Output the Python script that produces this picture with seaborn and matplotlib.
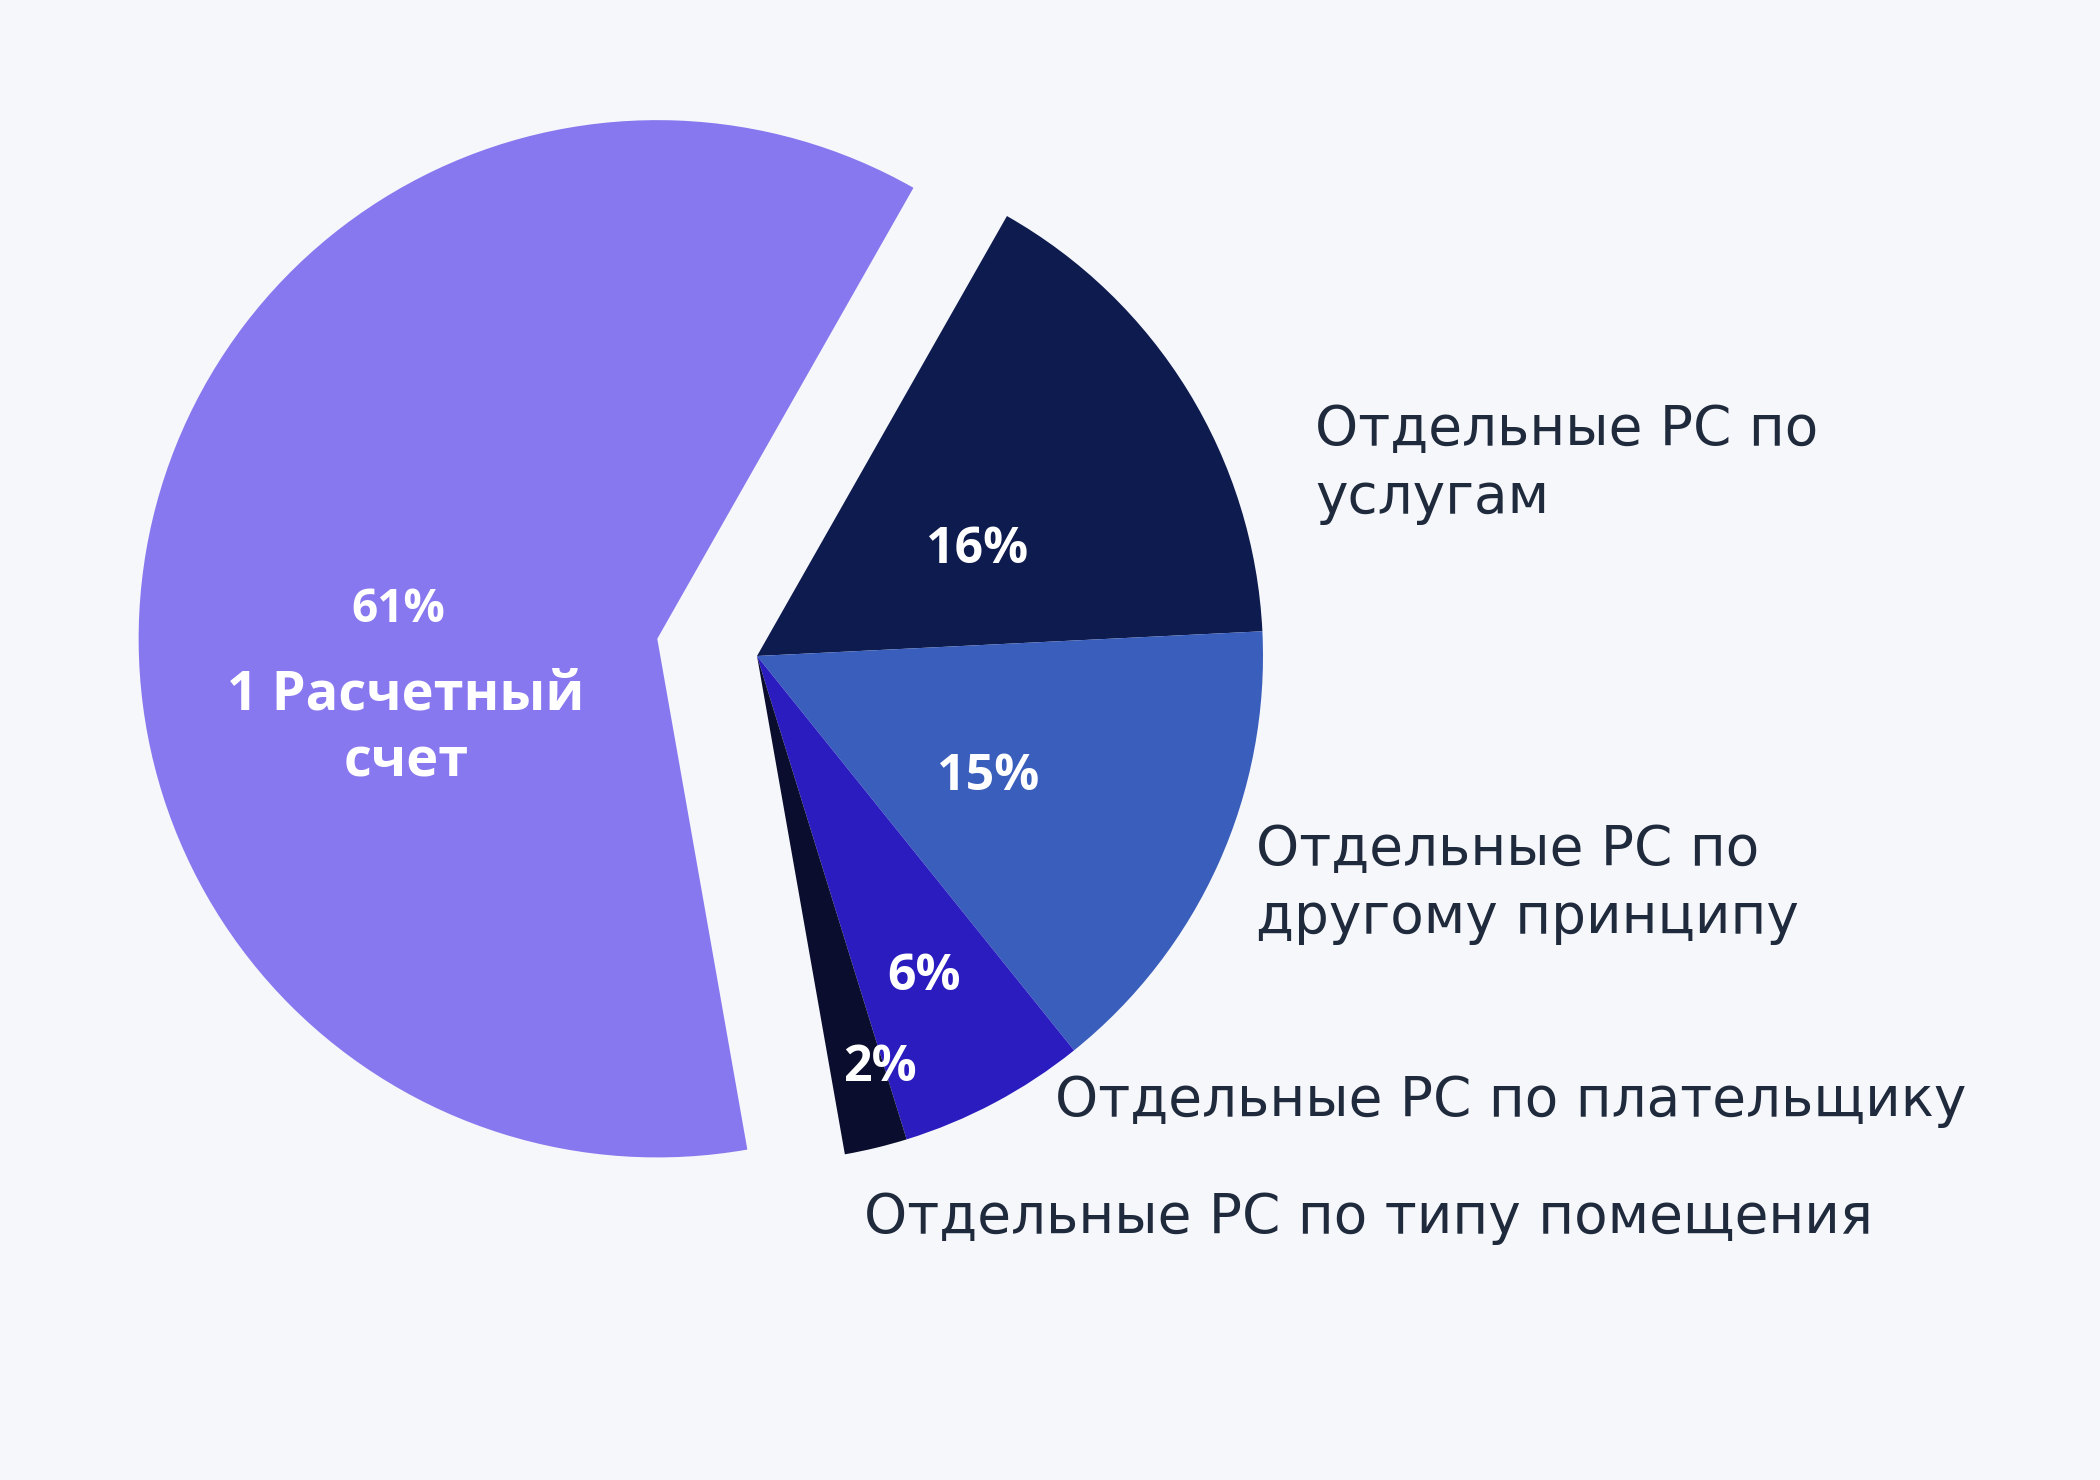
import matplotlib
matplotlib.use('Agg')
import matplotlib.pyplot as plt
import seaborn as sns

# =========================
# DATA
# =========================
shares = [61, 16, 15, 6, 2]
pct_labels = ['61%', '16%', '15%', '6%', '2%']
main_name = '1 Расчетный\nсчет'
side_names = [
    'Отдельные РС по\nуслугам',
    'Отдельные РС по\nдругому принципу',
    'Отдельные РС по плательщику',
    'Отдельные РС по типу помещения',
]

# =========================
# STYLE
# =========================
sns.set_theme(style='white')
plt.rcParams['font.family'] = ['DejaVu Sans']
bold_fam = ['Open Sans', 'DejaVu Sans']

bg = '#F6F7FB'
colors = ['#8878EF', '#0E1B4E', '#3A5EBC', '#2A1CBF', '#0B0D2E']
text_col = '#1F2A3C'

W, H = 2100, 1480
fig = plt.figure(figsize=(21, 14.8), dpi=100, facecolor=bg)
ax = fig.add_axes([0, 0, 1, 1])
ax.set_facecolor(bg)

# pie: centre / radius in pixel units (y up); explode is in the same units
cx, cy, R = 757, H - 656, 506
wedges, _ = ax.pie(
    shares,
    colors=colors,
    explode=[0.2 * R, 0, 0, 0, 0],
    startangle=-80,
    counterclock=False,
    radius=R,
    center=(cx, cy),
    wedgeprops=dict(linewidth=0),
)
# the detached slice is drawn a touch larger in the original
wedges[0].set_radius(R * 1.025)

ax.set_xlim(0, W)
ax.set_ylim(0, H)
ax.set_aspect('equal')
ax.axis('off')

# percent labels inside wedges (pixel positions, y down)
pct_pos = [(398, 609), (977, 550), (988, 777), (924, 977), (880, 1068)]
pct_size = [33, 36, 36, 36, 36]
for lab, (x, y), fs in zip(pct_labels, pct_pos, pct_size):
    ax.text(x, H - y, lab, color='white', fontsize=fs, fontweight='bold',
            family=bold_fam, ha='center', va='center')

ax.text(406, H - 729, main_name, color='white', fontsize=39, fontweight='bold',
        family=bold_fam, ha='center', va='center', linespacing=1.3)

# side labels
side_pos = [(1315, 464), (1256, 884), (1055, 1101), (864, 1218)]
for lab, (x, y) in zip(side_names, side_pos):
    ax.text(x, H - y, lab, color=text_col, fontsize=39.5,
            ha='left', va='center', linespacing=1.33)

plt.savefig('out.png', dpi=100, facecolor=bg)
